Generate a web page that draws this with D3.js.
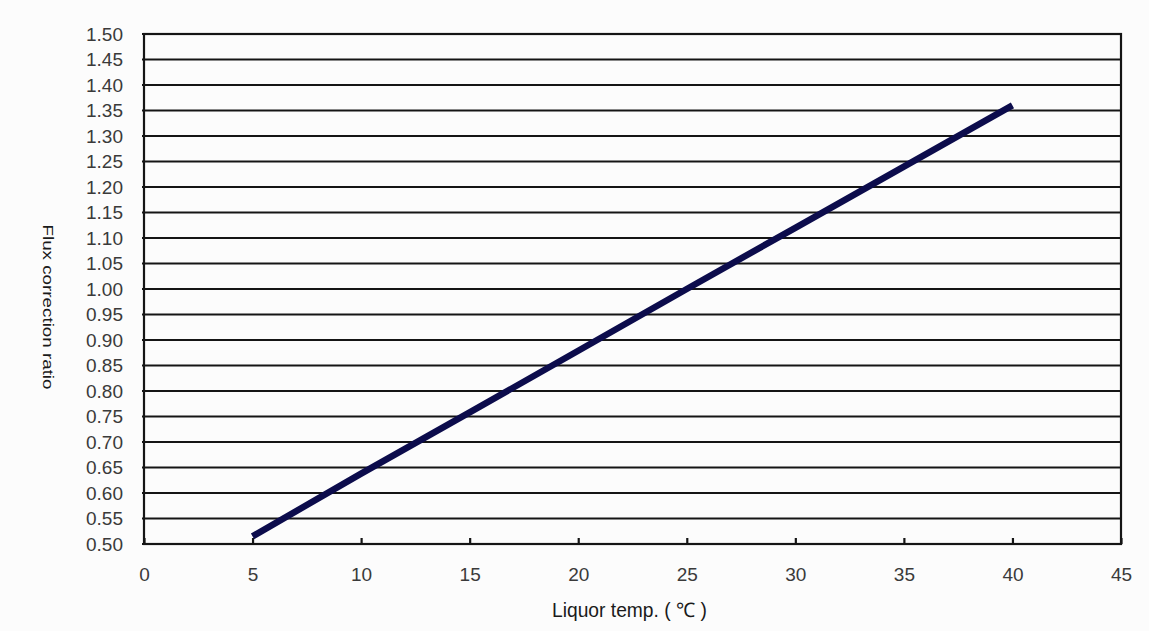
<!DOCTYPE html>
<html>
<head>
<meta charset="utf-8">
<script src="https://cdn.jsdelivr.net/npm/d3@7"></script>
<style>
  html, body { margin: 0; padding: 0; background: #fcfcfc; }
  svg { display: block; }
</style>
</head>
<body>
<script>
const temps = [5, 10, 15, 20, 25, 30, 35, 40];
const ratios = [0.515, 0.638, 0.758, 0.879, 1.0, 1.12, 1.24, 1.36];
const xTicks = [0, 5, 10, 15, 20, 25, 30, 35, 40, 45];
const yTicks = d3.range(0, 21).map(i => +(0.5 + i * 0.05).toFixed(2));
const xTitle = "Liquor temp. ( ℃ )";
const yTitle = "Flux correction ratio";

const W = 1149, H = 631;
const m = { left: 144, right: 1121, top: 34, bottom: 544 };

const svg = d3.select("body").append("svg").attr("width", W).attr("height", H);
svg.append("rect").attr("width", W).attr("height", H).attr("fill", "#fcfcfc");

const x = d3.scaleLinear().domain([0, 45]).range([m.left, m.right]);
const y = d3.scaleLinear().domain([0.5, 1.5]).range([m.bottom, m.top]);

// horizontal gridlines
svg.append("g").selectAll("line").data(yTicks).join("line")
  .attr("x1", m.left - 2).attr("x2", m.right)
  .attr("y1", d => y(d)).attr("y2", d => y(d))
  .attr("stroke", "#151515").attr("stroke-width", 2.2);

// frame
svg.append("rect").attr("x", m.left).attr("y", m.top)
  .attr("width", m.right - m.left).attr("height", m.bottom - m.top)
  .attr("fill", "none").attr("stroke", "#151515").attr("stroke-width", 2.2);

// y axis labels
const yAxis = d3.axisLeft(y).tickValues(yTicks).tickFormat(d3.format(".2f")).tickSize(0).tickPadding(21);
const gy = svg.append("g").attr("transform", `translate(${m.left},0)`).call(yAxis);
gy.select(".domain").remove();
gy.selectAll("text").attr("font-family", "Liberation Sans, Arial, sans-serif")
  .attr("font-size", 19).attr("fill", "#3a3a3a");

// x axis: ticks pointing inward
const xAxis = d3.axisBottom(x).tickValues(xTicks).tickFormat(d3.format("d")).tickSize(-6).tickPadding(24);
const gx = svg.append("g").attr("transform", `translate(0,${m.bottom})`).call(xAxis);
gx.select(".domain").remove();
gx.selectAll("line").attr("stroke", "#151515").attr("stroke-width", 2.2);
gx.selectAll("text").attr("font-family", "Liberation Sans, Arial, sans-serif")
  .attr("font-size", 19).attr("fill", "#3a3a3a");

// data line
const line = d3.line().x((d, i) => x(temps[i])).y(d => y(d));
svg.append("path").datum(ratios)
  .attr("d", line).attr("fill", "none")
  .attr("stroke", "#0c0c4c").attr("stroke-width", 6.5).attr("stroke-linecap", "butt");

// axis titles
svg.append("text").attr("x", 552).attr("y", 617)
  .attr("font-family", "Liberation Sans, Arial, sans-serif")
  .attr("font-size", 20).attr("fill", "#1a1a1a")
  .attr("textLength", 155).attr("lengthAdjust", "spacingAndGlyphs")
  .text(xTitle);

svg.append("text").attr("transform", "translate(43,307) rotate(90)")
  .attr("text-anchor", "middle")
  .attr("font-family", "Liberation Sans, Arial, sans-serif")
  .attr("font-size", 15).attr("fill", "#1a1a1a")
  .attr("textLength", 165).attr("lengthAdjust", "spacingAndGlyphs")
  .text(yTitle);
</script>
</body>
</html>
